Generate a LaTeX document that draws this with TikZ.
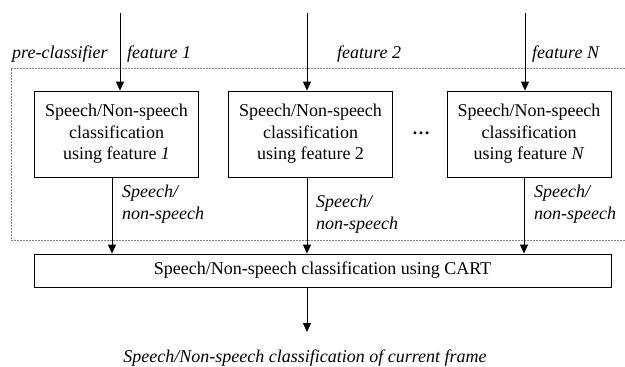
\documentclass[tikz,border=0pt]{standalone}
\usepackage{fontspec}
\setmainfont{Liberation Serif}
\usepackage{tikz}
\usetikzlibrary{arrows.meta,positioning}

\begin{document}
\begin{tikzpicture}[
  x=1pt, y=-1pt,
  every node/.style={font=\rmfamily\fontsize{18}{21.5}\selectfont, inner sep=0pt},
  clf/.style={draw, line width=0.8pt, minimum width=164pt, minimum height=86pt,
              align=center},
  cart/.style={draw, line width=0.8pt, minimum width=577pt, minimum height=33pt},
  lbl/.style={font=\rmfamily\fontsize{18}{21.5}\selectfont\itshape, anchor=base west, align=left},
  arr/.style={-{Triangle[length=9pt,width=8pt]}, line width=0.8pt},
  frame/.style={gray, line width=0.6pt, dash pattern=on 0.6pt off 0.9pt}
]
\useasboundingbox (0,0) rectangle (625,367);

% pre-classifier block
\draw[frame] (625,68) -- (11,68) -- (11,240) -- (625,240);
\node[lbl] (pre) at (12,58) {pre-classifier};

\node[clf] (b1) at (116.5,134) {Speech/Non-speech \\ classification \\ using feature \textit{1}};
\node[clf] (b2) at (310.5,134) {Speech/Non-speech \\ classification \\ using feature 2};
\node[clf] (bN) at (529,134)   {Speech/Non-speech \\ classification \\ using feature \textit{N}};
\node[anchor=base] (dots) at (421,134) {\textbf{\dots}};

\node[cart] (cart) at (322.5,270.5) {Speech/Non-speech classification using CART};

% inputs
\coordinate (in1) at (120,13);
\coordinate (in2) at (307,13);
\coordinate (inN) at (525,13);
\node[lbl] (f1) at (127,58) {feature 1};
\node[lbl] (f2) at (337,58) {feature 2};
\node[lbl] (fN) at (532,58) {feature N};
\draw[arr] (in1) -- (in1 |- b1.north);
\draw[arr] (in2) -- (in2 |- b2.north);
\draw[arr] (inN) -- (inN |- bN.north);

% outputs of the single-feature classifiers
\draw[arr] ([xshift=-4.5pt]b1.south) -- ([xshift=-4.5pt]b1.south |- cart.north);
\draw[arr] ([xshift=-3.5pt]b2.south) -- ([xshift=-3.5pt]b2.south |- cart.north);
\draw[arr] ([xshift=-5pt]bN.south) -- ([xshift=-5pt]bN.south |- cart.north);
\node[lbl] (s1) at (122,219) {Speech/ \\ non-speech};
\node[lbl] (s2) at (316,229) {Speech/ \\ non-speech};
\node[lbl] (sN) at (534,219) {Speech/ \\ non-speech};

% final decision
\coordinate (res) at (307,332);
\draw[arr] (res |- cart.south) -- (res);
\node[font=\rmfamily\fontsize{18}{21.5}\selectfont\itshape, anchor=base] (out) at (305,362)
  {Speech/Non-speech classification of current frame};
\end{tikzpicture}
\end{document}
